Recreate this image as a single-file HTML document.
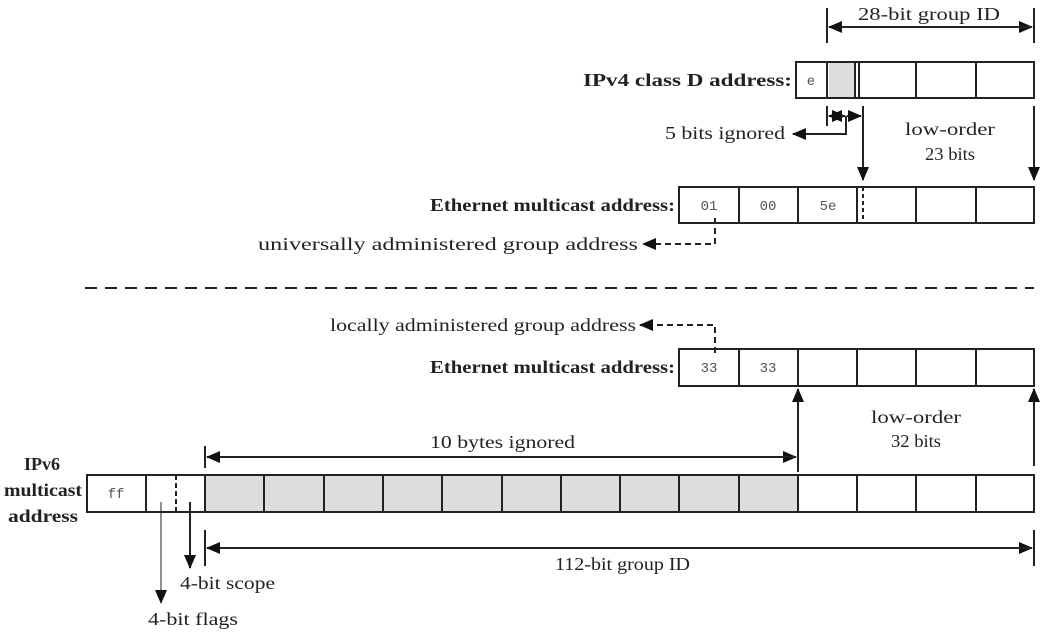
<!DOCTYPE html>
<html><head><meta charset="utf-8"><style>
html,body{margin:0;padding:0;background:#fff}
svg{display:block}
text{font-family:"Liberation Serif",serif;fill:#222}
.b{font-weight:bold}
.m{font-family:"Liberation Mono",monospace;fill:#555;font-size:14px}
</style></head><body>
<svg width="1047" height="632" viewBox="0 0 1047 632">
<defs>
<marker id="ah" markerWidth="14" markerHeight="12" refX="13" refY="6" orient="auto" markerUnits="userSpaceOnUse"><path d="M0,0 L14,6 L0,12 Z" fill="#111"/></marker>
</defs>
<g stroke="#222" stroke-width="2" fill="none">
<g>
<line x1="827" y1="8" x2="827" y2="43"/><line x1="1034" y1="8" x2="1034" y2="43"/>
<line x1="829" y1="27" x2="1032" y2="27" marker-end="url(#ah)"/><line x1="1032" y1="27" x2="829" y2="27" marker-end="url(#ah)"/>
</g>
<g>
<rect x="829" y="62" width="26" height="36" fill="#ddd" stroke="none"/>
<rect x="796" y="62" width="238" height="36"/>
<line x1="827" y1="62" x2="827" y2="98"/><line x1="855" y1="62" x2="855" y2="98"/><line x1="859" y1="62" x2="859" y2="98"/>
<line x1="916" y1="62" x2="916" y2="98"/><line x1="976" y1="62" x2="976" y2="98"/>
</g>
<g>
<line x1="827" y1="106" x2="827" y2="126"/><line x1="863" y1="106" x2="863" y2="126"/>
<line x1="829" y1="116" x2="845" y2="116" marker-end="url(#ah)"/><line x1="845" y1="116" x2="829" y2="116" marker-end="url(#ah)"/>
<line x1="847" y1="116" x2="861" y2="116" marker-end="url(#ah)"/>
<polyline points="846,116 846,134 793,134" marker-end="url(#ah)"/>
</g>
<line x1="863" y1="106" x2="863" y2="180" marker-end="url(#ah)"/>
<line x1="1034" y1="106" x2="1034" y2="180" marker-end="url(#ah)"/>
<g>
<rect x="679" y="187" width="355" height="36"/>
<line x1="739" y1="187" x2="739" y2="223"/><line x1="798" y1="187" x2="798" y2="223"/><line x1="857" y1="187" x2="857" y2="223"/>
<line x1="863" y1="187" x2="863" y2="223" stroke-dasharray="4,3"/>
<line x1="916" y1="187" x2="916" y2="223"/><line x1="976" y1="187" x2="976" y2="223"/>
</g>
<polyline points="715,218 715,244 643,244" stroke-dasharray="6,4" marker-end="url(#ah)"/>
<line x1="85" y1="288" x2="1034" y2="288" stroke-dasharray="12,8"/>
<polyline points="715,353 715,325 640,325" stroke-dasharray="6,4" marker-end="url(#ah)"/>
<g>
<rect x="679" y="349" width="355" height="37"/>
<line x1="739" y1="349" x2="739" y2="386"/><line x1="798" y1="349" x2="798" y2="386"/><line x1="857" y1="349" x2="857" y2="386"/>
<line x1="916" y1="349" x2="916" y2="386"/><line x1="976" y1="349" x2="976" y2="386"/>
</g>
<line x1="798" y1="472" x2="798" y2="389" marker-end="url(#ah)"/>
<line x1="1034" y1="466" x2="1034" y2="389" marker-end="url(#ah)"/>
<g>
<line x1="205" y1="446" x2="205" y2="468"/>
<line x1="207" y1="457" x2="796" y2="457" marker-end="url(#ah)"/><line x1="796" y1="457" x2="207" y2="457" marker-end="url(#ah)"/>
</g>
<g>
<rect x="205" y="475" width="593" height="37" fill="#ddd" stroke="none"/>
<rect x="87" y="475" width="947" height="37"/>
<line x1="146" y1="475" x2="146" y2="512"/><line x1="176" y1="475" x2="176" y2="512" stroke-dasharray="5,3"/>
<line x1="205" y1="475" x2="205" y2="512"/>
<line x1="264" y1="475" x2="264" y2="512"/><line x1="324" y1="475" x2="324" y2="512"/><line x1="383" y1="475" x2="383" y2="512"/>
<line x1="442" y1="475" x2="442" y2="512"/><line x1="502" y1="475" x2="502" y2="512"/><line x1="561" y1="475" x2="561" y2="512"/>
<line x1="620" y1="475" x2="620" y2="512"/><line x1="679" y1="475" x2="679" y2="512"/><line x1="739" y1="475" x2="739" y2="512"/>
<line x1="798" y1="475" x2="798" y2="512"/><line x1="857" y1="475" x2="857" y2="512"/><line x1="916" y1="475" x2="916" y2="512"/><line x1="976" y1="475" x2="976" y2="512"/>
</g>
<g>
<line x1="205" y1="530" x2="205" y2="566"/><line x1="1034" y1="530" x2="1034" y2="566"/>
<line x1="207" y1="548" x2="1032" y2="548" marker-end="url(#ah)"/><line x1="1032" y1="548" x2="207" y2="548" marker-end="url(#ah)"/>
</g>
<line x1="190" y1="502" x2="190" y2="568" marker-end="url(#ah)"/>
<line x1="161" y1="502" x2="161" y2="603" stroke-width="1" marker-end="url(#ah)"/>
</g>
<g font-size="18">
<text x="858" y="20" textLength="142" lengthAdjust="spacingAndGlyphs">28-bit group ID</text>
<text x="583" y="86" textLength="209" lengthAdjust="spacingAndGlyphs" class="b">IPv4 class D address:</text>
<text x="665" y="139" textLength="120" lengthAdjust="spacingAndGlyphs">5 bits ignored</text>
<text x="905" y="135" textLength="90" lengthAdjust="spacingAndGlyphs">low-order</text>
<text x="925" y="160" textLength="50" lengthAdjust="spacingAndGlyphs">23 bits</text>
<text x="430" y="211" textLength="245" lengthAdjust="spacingAndGlyphs" class="b">Ethernet multicast address:</text>
<text x="258" y="250" textLength="380" lengthAdjust="spacingAndGlyphs">universally administered group address</text>
<text x="330" y="331" textLength="306" lengthAdjust="spacingAndGlyphs">locally administered group address</text>
<text x="430" y="373" textLength="245" lengthAdjust="spacingAndGlyphs" class="b">Ethernet multicast address:</text>
<text x="871" y="423" textLength="90" lengthAdjust="spacingAndGlyphs">low-order</text>
<text x="891" y="447" textLength="50" lengthAdjust="spacingAndGlyphs">32 bits</text>
<text x="430" y="448" textLength="145" lengthAdjust="spacingAndGlyphs">10 bytes ignored</text>
<text x="555" y="570" textLength="135" lengthAdjust="spacingAndGlyphs">112-bit group ID</text>
<text x="180" y="589" textLength="95" lengthAdjust="spacingAndGlyphs">4-bit scope</text>
<text x="148" y="625" textLength="90" lengthAdjust="spacingAndGlyphs">4-bit flags</text>
<g>
<text x="42" y="470" text-anchor="middle" class="b">IPv6</text>
<text x="4" y="496" textLength="78" lengthAdjust="spacingAndGlyphs" class="b">multicast</text>
<text x="8" y="522" textLength="70" lengthAdjust="spacingAndGlyphs" class="b">address</text>
</g>
</g>
<text x="811" y="85" text-anchor="middle" class="m">e</text>
<text x="709" y="210" text-anchor="middle" class="m">01</text>
<text x="768" y="210" text-anchor="middle" class="m">00</text>
<text x="828" y="210" text-anchor="middle" class="m">5e</text>
<text x="709" y="372" text-anchor="middle" class="m">33</text>
<text x="768" y="372" text-anchor="middle" class="m">33</text>
<text x="116" y="498" text-anchor="middle" class="m">ff</text>
</svg>
</body></html>
